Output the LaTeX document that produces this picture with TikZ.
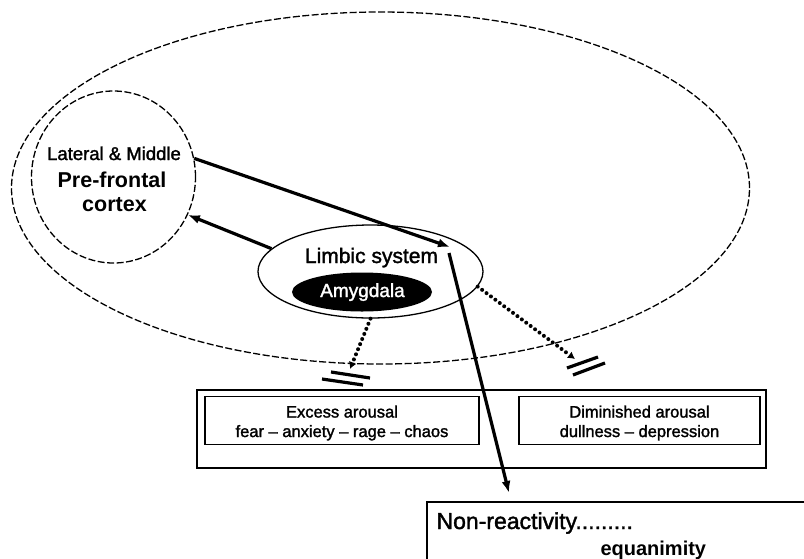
\documentclass[tikz,border=0pt]{standalone}
\usepackage{fontspec}
\setmainfont{Liberation Sans}
\newfontfamily\medfont[FakeBold=1.6]{Liberation Sans}
\usetikzlibrary{shapes.geometric,arrows.meta}
\begin{document}
\begin{tikzpicture}[x=1pt,y=-1pt,
  outline/.style={draw, line width=1.3pt},
  dashline/.style={draw, line width=1.3pt, dash pattern=on 7pt off 2.5pt},
  arr/.style={line width=3.2pt, -{Latex[length=12pt,width=9pt]}},
  dotarr/.style={line width=4pt, line cap=round, dash pattern=on 0pt off 5.5pt, -{Latex[length=7pt,width=8pt]}},
  blockbar/.style={line width=3.2pt},
  boxtext/.style={font=\medfont\fontsize{16.5}{19.5}\selectfont, align=center},
  innerbox/.style={draw, line width=1.4pt, inner sep=0pt, minimum height=48pt}]
\useasboundingbox (0,0) rectangle (804,558);
\fill[white] (0,0) rectangle (804,558);
\clip (0,0) rectangle (804,558);

% big ellipse
\node[ellipse, dashline, inner sep=0pt, minimum width=738pt, minimum height=352pt] (brain) at (380.5,188) {};
% prefrontal cortex
\node[ellipse, dashline, inner sep=0pt, minimum width=164pt, minimum height=172pt] (pfc) at (113.5,177) {};
\node[anchor=base, font=\medfont\fontsize{18.5}{20}\selectfont] (pfcA) at (114,160) {Lateral \& Middle};
\node[anchor=base, font=\fontsize{21.5}{24}\selectfont\bfseries] (pfcB) at (112,187) {Pre-frontal};
\node[anchor=base, font=\fontsize{21.5}{24}\selectfont\bfseries] (pfcC) at (114.5,211) {cortex};
% limbic system
\node[ellipse, outline, inner sep=0pt, minimum width=225pt, minimum height=93pt] (limbic) at (370.5,271.5) {};
\node[anchor=base, font=\medfont\fontsize{21}{24}\selectfont] (limbictext) at (371.5,263) {Limbic system};
\node[ellipse, fill=black, inner sep=0pt, minimum width=140pt, minimum height=39pt] (amy) at (362,292) {};
\node[anchor=base, text=white, font=\medfont\fontsize{19}{20}\selectfont] (amytext) at (362.5,297) {Amygdala};

% arousal boxes
\node[draw, line width=2.2pt, inner sep=0pt, minimum width=569pt, minimum height=78pt] (arousal) at (481.5,429) {};
\node[innerbox, minimum width=274pt] (excess) at (342,420.5) {};
\node[boxtext] (excesstext) at (342,423) {Excess arousal\\fear – anxiety – rage – chaos};
\node[innerbox, minimum width=241pt] (dimin) at (639.5,420.5) {};
\node[boxtext] (dimintext) at (639.5,423) {Diminished arousal\\dullness – depression};

% non-reactivity box
\node[draw, line width=2.2pt, anchor=north west, inner sep=0pt, minimum width=420pt, minimum height=120pt] (calm) at (426,501) {};
\node[anchor=base west, font=\medfont\fontsize{23}{26}\selectfont] (calmA) at (433,529) {Non-reactivity.........};
\node[anchor=base west, font=\fontsize{20}{24}\selectfont\bfseries] (calmB) at (597,555) {equanimity};

% connectors
\coordinate (hubin) at (450,247);
\coordinate (hubout) at (449,253);
\coordinate (calmtip) at (509,493);
\draw[arr] (pfc.13) -- (hubin);
\draw[arr] (limbic.167) -- (pfc.-27);
\draw[arr] (hubout) -- (calmtip);

\coordinate (stopA) at (350,369);
\coordinate (stopB) at (575,359);
\draw[dotarr] (limbic.south) -- (stopA);
\draw[dotarr] (limbic.-8) -- (stopB);

\coordinate (barA1s) at (331,372); \coordinate (barA1e) at (370,378);
\coordinate (barA2s) at (322,379); \coordinate (barA2e) at (363,385);
\draw[blockbar] (barA1s) -- (barA1e);
\draw[blockbar] (barA2s) -- (barA2e);
\coordinate (barB1s) at (567,368); \coordinate (barB1e) at (598,357);
\coordinate (barB2s) at (573,375); \coordinate (barB2e) at (605,363);
\draw[blockbar] (barB1s) -- (barB1e);
\draw[blockbar] (barB2s) -- (barB2e);
\end{tikzpicture}
\end{document}
